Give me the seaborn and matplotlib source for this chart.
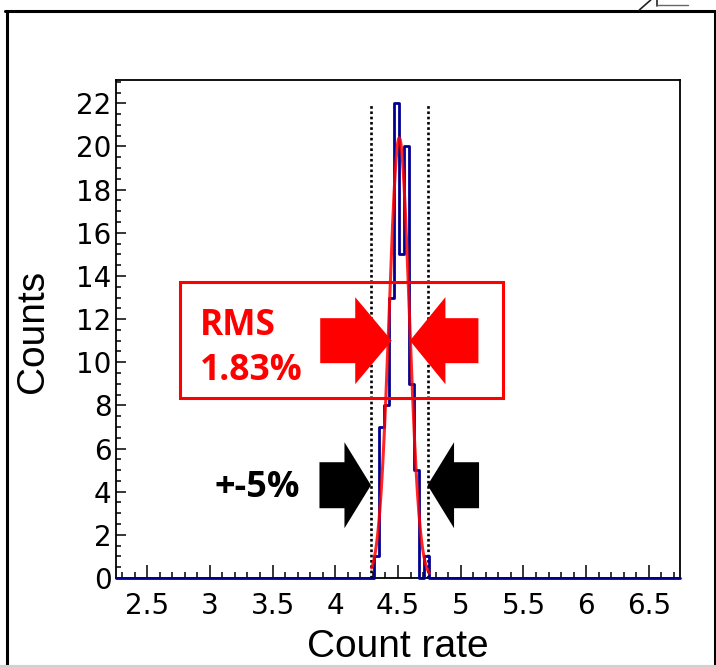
import numpy as np
import pandas as pd
import matplotlib
matplotlib.use("Agg")
import matplotlib.pyplot as plt
import seaborn as sns
from matplotlib.patches import Polygon, Rectangle
from matplotlib.lines import Line2D
from matplotlib.ticker import MultipleLocator, FormatStrFormatter
from matplotlib.transforms import IdentityTransform

# ---------------- data ----------------
bin_edges = [2.25, 4.31, 4.35, 4.39, 4.43, 4.47, 4.51, 4.55, 4.59, 4.63,
             4.67, 4.71, 4.75, 6.75]
bin_counts = [0, 1, 7, 8, 13, 22, 15, 20, 9, 5, 0, 1, 0]

fit_mean = 4.51
fit_sigma = 0.08
fit_amplitude = 20.4
fit_range = [4.29, 4.75]

tolerance = 0.05          # the +-5% band
band_top = 22
rms_label = ["RMS", "1.83%"]
band_label = "+-5%"
rms_arrow_tips = [4.45, 4.595]   # where the red arrows point (x)
rms_arrow_level = 11.0
band_arrow_level = 4.3

x_limits = [2.25, 6.75]
y_limits = [0, 23.1]
x_label = "Count rate"
y_label = "Counts"

# ---------------- styling ----------------
sns.set_style("ticks")
plt.rcParams["font.family"] = ["DejaVu Sans"]
plt.rcParams["text.color"] = "black"
plt.rcParams["axes.labelcolor"] = "black"
plt.rcParams["xtick.color"] = "black"
plt.rcParams["ytick.color"] = "black"

W, H = 716, 667
fig = plt.figure(figsize=(W / 100, H / 100), dpi=100)
fig.patch.set_facecolor("white")
ax = fig.add_axes([115.7 / W, (H - 578) / H, 564.6 / W, 498.4 / H])

blue = "#000090"
red = "#ff0000"

edges = np.array(bin_edges)
centers = (edges[:-1] + edges[1:]) / 2
hist_df = pd.DataFrame({"rate": centers, "count": bin_counts})

sns.histplot(data=hist_df, x="rate", weights="count", bins=bin_edges,
             element="step", fill=False, color=blue, linewidth=2.0, ax=ax)
for ln in ax.lines:
    ln.set_clip_on(False)
    ln.set_zorder(3)

# gaussian fit curve
fit_x = np.linspace(fit_range[0], fit_range[1], 300)
fit_y = fit_amplitude * np.exp(-0.5 * ((fit_x - fit_mean) / fit_sigma) ** 2)
fit_df = pd.DataFrame({"rate": fit_x, "fit": fit_y})
sns.lineplot(data=fit_df, x="rate", y="fit", color=red, linewidth=2.2,
             alpha=0.85, ax=ax, zorder=4)

# +-5% dotted lines
band = [fit_mean * (1 - tolerance), fit_mean * (1 + tolerance)]
ax.vlines(band, 0, band_top, colors="black", linewidth=1.9,
          linestyles=[(0, (1, 1))], zorder=2)

ax.set_xlim(*x_limits)
ax.set_ylim(*y_limits)
ax.xaxis.set_major_locator(MultipleLocator(0.5))
ax.xaxis.set_minor_locator(MultipleLocator(0.1))
ax.xaxis.set_major_formatter(FormatStrFormatter("%g"))
ax.yaxis.set_major_locator(MultipleLocator(2))
ax.yaxis.set_minor_locator(MultipleLocator(0.5))

ax.tick_params(axis="both", which="both", direction="in", color="black",
               labelcolor="black", width=1.1, top=False, right=False)
ax.tick_params(axis="x", which="major", length=9.5, pad=10, labelsize=20)
ax.tick_params(axis="x", which="minor", length=4.5)
ax.tick_params(axis="y", which="major", length=7.2, pad=2.9, labelsize=20)
ax.tick_params(axis="y", which="minor", length=3.6)
for s in ax.spines.values():
    s.set_color("black")
    s.set_linewidth(1.3)

ax.set_xlabel(x_label, fontsize=28, family="Liberation Sans", color="black")
ax.xaxis.set_label_coords(0.5, (578 - 657) / 498.4)
ax.xaxis.label.set_va("baseline")
ax.set_ylabel(y_label, fontsize=28, family="Liberation Sans", color="black",
              rotation=90, rotation_mode="anchor", ha="center", va="baseline")
ax.yaxis.set_label_coords((43.3 - 115.7) / 564.6, (578 - 331.7) / 498.4)

# ---------------- annotations ----------------
def to_disp(xd, yd):
    return ax.transData.transform((xd, yd))


def arrow(xd, yd, direction, head_len, head_half, shaft_half, total_len, color):
    tx, ty = to_disp(xd, yd)
    bx = tx - direction * head_len
    ex = tx - direction * total_len
    pts = [(tx, ty), (bx, ty + head_half), (bx, ty + shaft_half),
           (ex, ty + shaft_half), (ex, ty - shaft_half), (bx, ty - shaft_half),
           (bx, ty - head_half)]
    fig.add_artist(Polygon(pts, closed=True, facecolor=color, edgecolor="none",
                           transform=IdentityTransform(), zorder=5))


# red RMS arrows
arrow(rms_arrow_tips[0], rms_arrow_level, +1, 36.5, 43.5, 22.5, 71.5, red)
arrow(rms_arrow_tips[1], rms_arrow_level, -1, 35.5, 43.5, 22.5, 68.5, red)
# black +-5% arrows
arrow(band[0], band_arrow_level, +1, 26.5, 43.0, 23.0, 51.5, "black")
arrow(band[1], band_arrow_level, -1, 26.5, 43.0, 23.0, 51.5, "black")

# red box
fig.add_artist(Rectangle((180, H - 398), 323, 116, fill=False, edgecolor=red,
                         linewidth=2.2, transform=IdentityTransform(), zorder=5))

fig.text(199.5 / W, 1 - 335 / H, rms_label[0], color=red, fontsize=25.5,
         fontweight="bold", family="Open Sans", va="baseline", ha="left")
fig.text(199.5 / W, 1 - 380 / H, rms_label[1], color=red, fontsize=25.5,
         fontweight="bold", family="Open Sans", va="baseline", ha="left")
fig.text(214.5 / W, 1 - 496.7 / H, band_label, color="black", fontsize=26,
         fontweight="bold", family="Open Sans", va="baseline", ha="left")

# outer frame of the picture
frame_kw = dict(color="black", linewidth=2.2, transform=IdentityTransform())
fig.add_artist(Line2D([6.5, 6.5], [0, H - 10.7], **frame_kw))
fig.add_artist(Line2D([5.4, 715.0], [H - 10.7, H - 10.7], **frame_kw))
fig.add_artist(Line2D([714.5, 714.5], [0, H - 10.7], **frame_kw))
fig.add_artist(Line2D([0, W], [1.5, 1.5], color="#d0d0d0", linewidth=1.5,
                      transform=IdentityTransform()))
# small cropped mark at the top right
mark_kw = dict(color="#222222", linewidth=1.2, transform=IdentityTransform())
fig.add_artist(Line2D([639.3, 650.7], [H - 10, H], **mark_kw))
fig.add_artist(Line2D([657.3, 657.3], [H - 5.5, H], **mark_kw))
fig.add_artist(Line2D([657.3, 687.5], [H - 5.0, H - 5.0], color="#666666",
                      linewidth=1.0, transform=IdentityTransform()))

fig.savefig("out.png", dpi=100, facecolor="white")
